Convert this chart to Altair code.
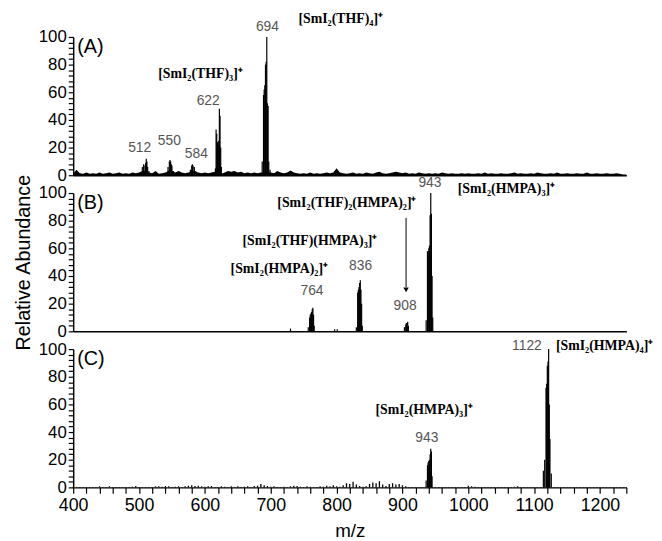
import altair as alt
import pandas as pd

MZ_MIN, MZ_MAX = 400, 1240
W, H = 560, 140

# ---------------- Panel A ----------------
A_mz = [505, 507, 509, 510, 511, 512, 513, 515,
        544, 546, 547, 548, 549, 550, 552,
        578, 580, 581, 582, 584, 586,
        616, 617, 618, 619, 620, 621, 622, 623, 624, 625,
        687, 689, 690, 691, 692, 693, 694, 695, 696, 697, 699]
A_int = [6, 8, 7, 9, 12, 10, 6, 3,
         6, 10, 11, 10, 8, 7, 3,
         4, 7, 8, 7, 6, 3,
         5, 33, 30, 24, 22, 25, 48, 43, 20, 6,
         10, 58, 62, 65, 80, 82, 100, 52, 50, 10, 4]
A_noise_step = 5
A_noise = [1.0, 4.0, 1.5, 1.0, 2.0, 1.0, 1.5, 1.0, 2.0, 1.0,
           1.5, 2.0, 1.0, 1.5, 2.0, 1.0, 1.5, 1.0, 2.0, 1.5,
           2.0, 3.0, 3.0, 2.0, 1.5, 3.0, 1.0, 1.5, 2.0, 3.0,
           3.0, 2.0, 3.0, 2.0, 1.5, 2.0, 3.0, 2.5, 2.0, 1.5,
           2.0, 1.5, 2.0, 2.5, 2.0, 1.0, 2.0, 3.0, 2.5, 3.0,
           2.0, 2.5, 1.5, 2.0, 1.5, 2.0, 1.5, 2.0, 2.0, 2.0,
           2.0, 1.5, 3.0, 2.0, 1.5, 2.0, 3.5, 2.0, 1.5, 1.0,
           1.5, 1.0, 2.0, 1.0, 1.5, 1.0, 1.5, 2.0, 1.5, 2.0,
           5.0, 2.0, 1.5, 1.0, 1.5, 2.0, 1.0, 1.5, 1.0, 2.0,
           1.5, 1.0, 2.0, 2.5, 1.5, 1.0, 1.5, 2.0, 2.5, 2.0,
           1.5, 2.0, 1.0, 1.5, 1.0, 2.0, 1.5, 1.0, 1.5, 1.0,
           1.5, 1.0, 2.0, 1.5, 1.0, 1.5, 1.0, 1.0, 1.5, 1.0,
           1.5, 1.0, 1.0, 1.5, 1.0, 2.0, 1.0, 1.5, 1.0, 1.0,
           1.5, 1.0, 1.0, 1.5, 2.0, 1.0, 1.5, 1.0, 1.0, 1.5,
           1.0, 2.0, 1.5, 1.0, 1.0, 1.5, 1.0, 2.0, 1.0, 1.0,
           1.5, 1.0, 1.0, 1.5, 1.0, 1.0, 2.0, 1.0, 1.0, 1.5,
           1.0, 1.0, 1.5, 1.0, 1.0, 1.5, 1.0, 0.5, 0.5]
A_num_mz = [501, 546, 587, 605, 695]
A_num_v = [20, 25, 15, 54, 107]
A_num_txt = ["512", "550", "584", "622", "694"]
A_cmp_mz = [529, 742]
A_cmp_v = [73, 113]
A_cmp_txt = ["[SmI\u2082(THF)\u2083]\u207a", "[SmI\u2082(THF)\u2084]\u207a"]

# ---------------- Panel B ----------------
B_mz = [730, 797, 801,
        757, 759, 760, 761, 762, 763, 764, 765, 766,
        830, 832, 833, 834, 835, 836, 837, 838, 839,
        903, 905, 906, 907, 908, 909,
        936, 938, 939, 940, 941, 942, 943, 944, 945, 946]
B_int = [2, 1.5, 1.5,
         3, 10, 12, 13, 14, 16, 17, 12, 4,
         3, 28, 30, 32, 35, 37, 30, 20, 4,
         3, 5, 6, 6, 7, 4,
         8, 58, 57, 60, 62, 84, 100, 85, 40, 10]
B_num_mz = [762.6, 836.4, 904, 941.7]
B_num_v = [29, 47, 18, 107]
B_num_txt = ["764", "836", "908", "943"]
B_cmp_mz = [639, 657, 710, 984]
B_cmp_v = [45, 65, 93, 103]
B_cmp_txt = ["[SmI\u2082(HMPA)\u2082]\u207a",
             "[SmI\u2082(THF)(HMPA)\u2083]\u207a",
             "[SmI\u2082(THF)\u2082(HMPA)\u2082]\u207a",
             "[SmI\u2082(HMPA)\u2083]\u207a"]
B_arrow_mz = 905.5
B_arrow_top, B_arrow_bottom = 82, 30

# ---------------- Panel C ----------------
C_mz = [936, 938, 939, 940, 941, 942, 943, 944, 945,
        1114, 1116, 1118, 1119, 1120, 1121, 1122, 1123, 1124, 1126]
C_int = [5, 16, 18, 19, 20, 24, 28, 26, 8,
         12, 20, 72, 75, 88, 91, 100, 60, 35, 10]
C_noise_step = 5
C_noise = [0.5, 0.3, 0.3, 0.3, 0.3, 0.3, 0.3, 0.3, 0.8, 0.3,
           0.3, 0.8, 0.3, 0.3, 0.3, 0.3, 0.3, 0.3, 0.5, 1.0,
           0.3, 0.3, 0.3, 0.3, 0.3, 0.8, 0.8, 0.5, 1.0, 0.8,
           0.3, 0.5, 0.8, 0.3, 0.8, 1.2, 1.5, 1.0, 1.2, 0.8,
           0.5, 0.8, 1.0, 0.3, 0.3, 0.8, 0.5, 0.3, 0.8, 0.3,
           0.8, 0.3, 0.5, 0.8, 0.3, 1.0, 1.2, 2.5, 1.5, 1.0,
           0.5, 0.8, 0.3, 0.3, 0.5, 0.3, 0.8, 1.2, 1.0, 0.5,
           0.3, 0.8, 0.5, 0.3, 0.3, 0.8, 0.5, 1.2, 0.8, 1.5,
           0.8, 0.5, 1.5, 3.0, 2.5, 4.0, 2.0, 1.0, 0.5, 0.8,
           2.5, 3.5, 3.0, 4.5, 2.0, 1.0, 2.5, 3.0, 2.0, 2.5,
           1.5, 0.8, 0.3, 0.3, 0.3, 0.3, 0.3, 0.3, 0.3, 0.3,
           0.3, 0.3, 0.3, 0.3, 0.3, 0.3, 0.3, 0.3, 0.3, 0.3,
           1.2, 0.8, 0.5, 0.3, 0.3, 0.3, 0.3, 0.3, 0.3, 0.3,
           0.3, 0.3, 0.3, 0.3, 0.5, 0.8, 0.3, 0.3, 0.3, 0.3,
           0.3, 0.3, 0.3, 0.3, 0.3, 0.3, 0.3, 0.3, 0.3, 0.3,
           0.3, 0.3, 0.3, 0.3, 0.3, 0.3, 0.3, 0.3, 0.3, 0.3,
           0.3, 0.3, 0.3, 0.3, 0.3, 0.3, 0.3, 0.3, 0.3]
C_num_mz = [937, 1089]
C_num_v = [36, 102]
C_num_txt = ["943", "1122"]
C_cmp_mz = [859, 1133]
C_cmp_v = [56, 102]
C_cmp_txt = ["[SmI\u2082(HMPA)\u2083]\u207a", "[SmI\u2082(HMPA)\u2084]\u207a"]

X_TICKS = list(range(400, 1241, 20))
Y_TICKS = list(range(0, 101, 4))

SANS = "Liberation Sans"
SERIF = "Liberation Serif"

xscale = alt.Scale(domain=[MZ_MIN, MZ_MAX], nice=False, zero=False)
yscale = alt.Scale(domain=[0, 100], nice=False)


def xenc(bottom):
    if bottom:
        ax = alt.Axis(values=X_TICKS, format="d", title="m/z", labelFontSize=18,
                      labelExpr="datum.value % 100 == 0 ? datum.label : ''",
                      labelOverlap=False, labelFlush=False,
                      titleFontSize=19, titleFontWeight="normal", tickSize=6,
                      labelPadding=3, titlePadding=8, labelFont=SANS, titleFont=SANS)
    else:
        ax = alt.Axis(labels=False, ticks=False, title=None)
    return alt.X("mz:Q", scale=xscale, axis=ax)


def yenc(title):
    ax = alt.Axis(values=Y_TICKS, title=("Relative Abundance" if title else None),
                  labelExpr="datum.value % 20 == 0 ? datum.label : ''",
                  labelOverlap=False, labelFlush=False,
                  labelFontSize=17, titleFontSize=20, titleFontWeight="normal",
                  tickSize=5, labelPadding=2, titlePadding=5,
                  labelFont=SANS, titleFont=SANS)
    return alt.Y("v:Q", scale=yscale, axis=ax)


def panel(mz, inten, noise, noise_step, num, cmp, tag, bottom=False, ytitle=False,
          arrow=None, noise_as_area=True):
    xe, ye = xenc(bottom), yenc(ytitle)
    sticks = pd.DataFrame({"mz": mz, "v": inten, "b": [0] * len(mz)})
    layers = []
    if noise is not None:
        nd = pd.DataFrame({"mz": [MZ_MIN + i * noise_step for i in range(len(noise))],
                           "v": noise, "b": [0] * len(noise)})
        if noise_as_area:
            layers.append(alt.Chart(nd).mark_area(color="black").encode(x=xe, y=ye))
        else:
            layers.append(alt.Chart(nd).mark_rule(color="black", strokeWidth=1.3)
                          .encode(x=xe, y=ye, y2="b:Q"))
    layers.append(alt.Chart(sticks).mark_rule(color="black", strokeWidth=1.2)
                  .encode(x=xe, y=ye, y2="b:Q"))
    nd = pd.DataFrame({"mz": num[0], "v": num[1], "t": num[2]})
    layers.append(alt.Chart(nd).mark_text(font=SANS, fontSize=14, color="#555555",
                                          align="center", baseline="middle")
                  .encode(x=xe, y=ye, text="t:N"))
    cd = pd.DataFrame({"mz": cmp[0], "v": cmp[1], "t": cmp[2]})
    layers.append(alt.Chart(cd).mark_text(font=SERIF, fontSize=14, fontWeight="bold",
                                          color="black", align="left", baseline="middle")
                  .encode(x=xe, y=ye, text="t:N"))
    td = pd.DataFrame({"mz": [406], "v": [100], "t": [tag]})
    layers.append(alt.Chart(td).mark_text(font=SANS, fontSize=20, color="black",
                                          align="left", baseline="top")
                  .encode(x=xe, y=ye, text="t:N"))
    if arrow is not None:
        ad = pd.DataFrame({"mz": [arrow[0]], "v": [arrow[1]], "v2": [arrow[2] + 2]})
        layers.append(alt.Chart(ad).mark_rule(color="black", strokeWidth=1)
                      .encode(x=xe, y=ye, y2="v2:Q"))
        hd = pd.DataFrame({"mz": [arrow[0]], "v": [arrow[2]]})
        layers.append(alt.Chart(hd).mark_point(shape="triangle-down", filled=True,
                                               color="black", size=30, opacity=1)
                      .encode(x=xe, y=ye))
    return alt.layer(*layers).properties(width=W, height=H)


pA = panel(A_mz, A_int, A_noise, A_noise_step, (A_num_mz, A_num_v, A_num_txt),
           (A_cmp_mz, A_cmp_v, A_cmp_txt), "(A)")
pB = panel(B_mz, B_int, None, None, (B_num_mz, B_num_v, B_num_txt),
           (B_cmp_mz, B_cmp_v, B_cmp_txt), "(B)", ytitle=True,
           arrow=(B_arrow_mz, B_arrow_top, B_arrow_bottom))
pC = panel(C_mz, C_int, C_noise, C_noise_step, (C_num_mz, C_num_v, C_num_txt),
           (C_cmp_mz, C_cmp_v, C_cmp_txt), "(C)", bottom=True, noise_as_area=False)

chart = alt.vconcat(pA, pB, pC, spacing=18, bounds="flush").properties(
    padding={"left": 5, "top": 0, "right": 0, "bottom": 0}
).configure_view(stroke=None).configure_axis(
    grid=False, domainColor="black", tickColor="black", labelColor="black",
    titleColor="black", domainWidth=1.5, tickWidth=1.2
)

chart.save("out.html", embed_options={"renderer": "svg", "actions": False})
